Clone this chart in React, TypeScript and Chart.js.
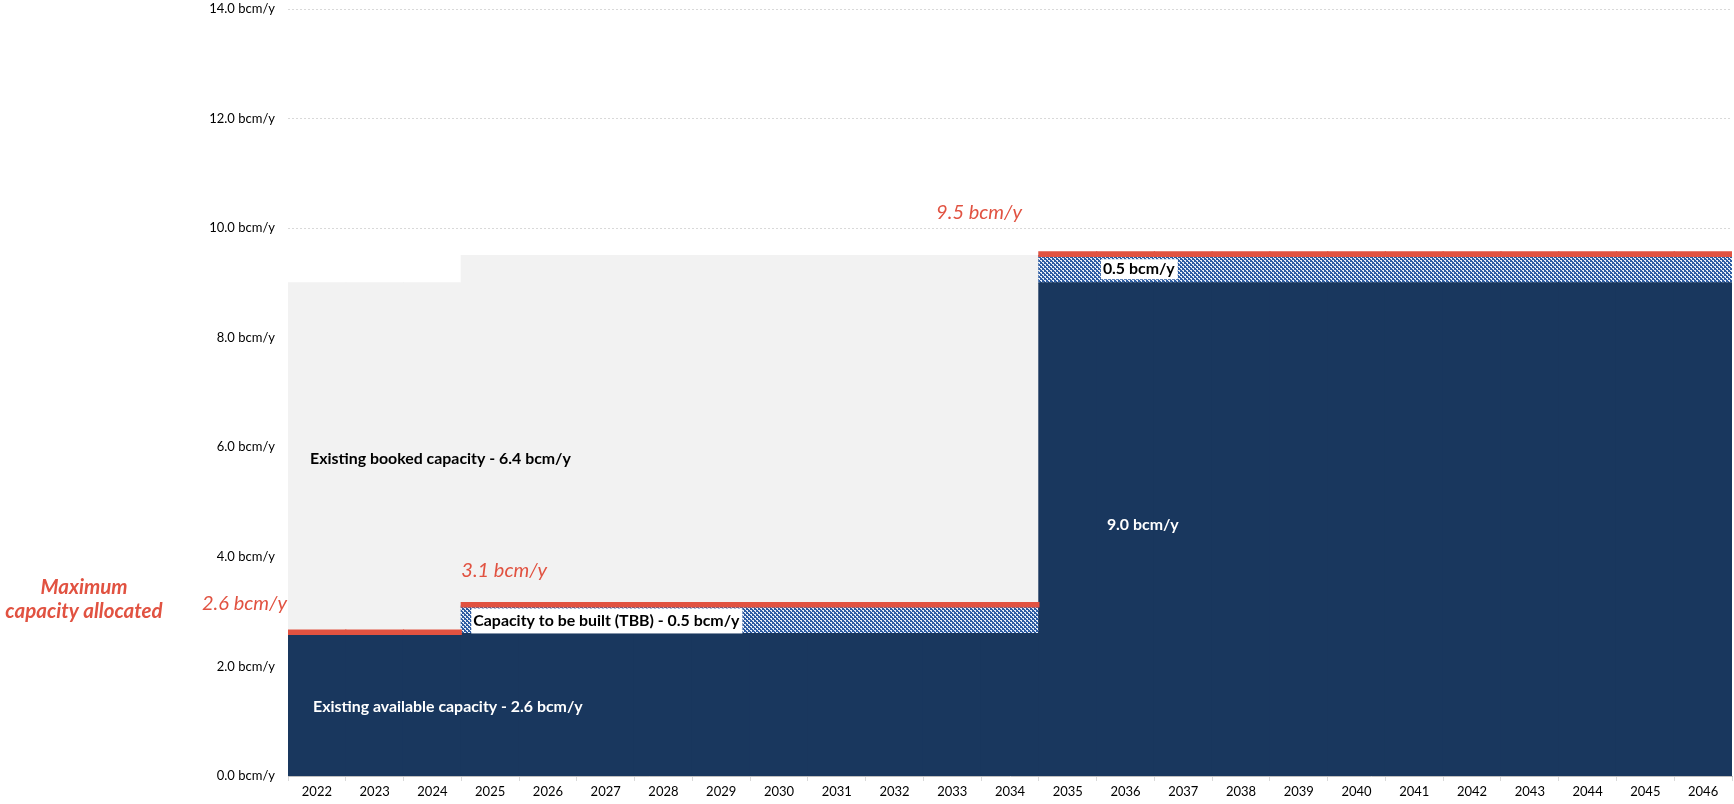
import React, { useEffect, useRef } from "react";
import { Chart, registerables } from "chart.js";

Chart.register(...registerables);

const years: string[] = [
  "2022","2023","2024","2025","2026","2027","2028","2029","2030","2031","2032","2033","2034",
  "2035","2036","2037","2038","2039","2040","2041","2042","2043","2044","2045","2046",
];
const availableCapacity: number[] = [
  2.6, 2.6, 2.6, 2.6, 2.6, 2.6, 2.6, 2.6, 2.6, 2.6, 2.6, 2.6, 2.6,
  9.0, 9.0, 9.0, 9.0, 9.0, 9.0, 9.0, 9.0, 9.0, 9.0, 9.0, 9.0,
];
const toBeBuilt: number[] = [
  0, 0, 0, 0.5, 0.5, 0.5, 0.5, 0.5, 0.5, 0.5, 0.5, 0.5, 0.5,
  0.5, 0.5, 0.5, 0.5, 0.5, 0.5, 0.5, 0.5, 0.5, 0.5, 0.5, 0.5,
];
const bookedCapacity: number[] = [
  6.4, 6.4, 6.4, 6.4, 6.4, 6.4, 6.4, 6.4, 6.4, 6.4, 6.4, 6.4, 6.4,
  0, 0, 0, 0, 0, 0, 0, 0, 0, 0, 0, 0,
];
const maxAllocated: number[] = [
  2.6, 2.6, 2.6, 3.1, 3.1, 3.1, 3.1, 3.1, 3.1, 3.1, 3.1, 3.1, 3.1,
  9.5, 9.5, 9.5, 9.5, 9.5, 9.5, 9.5, 9.5, 9.5, 9.5, 9.5, 9.5,
];
const yTicks: number[] = [0, 2, 4, 6, 8, 10, 12, 14];

const NAVY = "#19375E";
const GREY = "#F2F2F2";
const RED = "#E15241";
const FONT = "Lato, 'Open Sans', sans-serif";
const LINE_BELOW = 0.015;
const LINE_ABOVE = 0.065;

function makeHatch(): CanvasPattern | string {
  const c = document.createElement("canvas");
  c.width = 8;
  c.height = 8;
  const g = c.getContext("2d");
  if (!g) return "#2E5DA3";
  g.fillStyle = "#2D5CA2";
  g.fillRect(0, 0, 8, 8);
  g.fillStyle = "#E8EEF7";
  for (let y = 0; y < 8; y++)
    for (let x = 0; x < 8; x++) {
      const d = (((x - y) % 4) + 4) % 4;
      if (d === 0 || (d === 1 && y % 2 === 0)) g.fillRect(x, y, 1, 1);
    }
  return g.createPattern(c, "repeat") || "#2E5DA3";
}

const textPlugin = {
  id: "textLabels",
  afterDatasetsDraw(chart: any) {
    const ctx = chart.ctx as CanvasRenderingContext2D;
    const xs = chart.scales.x;
    const ys = chart.scales.y;
    const cw = xs.getPixelForValue(1) - xs.getPixelForValue(0);
    const leftEdge = (i: number) => xs.getPixelForValue(i) - cw / 2;
    const py = (v: number) => ys.getPixelForValue(v);

    ctx.save();
    ctx.textBaseline = "middle";

    // Booked
    ctx.font = `bold 15.9px ${FONT}`;
    ctx.fillStyle = "#000";
    ctx.textAlign = "left";
    ctx.fillText("Existing booked capacity - 6.4 bcm/y", leftEdge(0) + 22, py(5.79));

    // Available
    ctx.fillStyle = "#fff";
    ctx.fillText("Existing available capacity - 2.6 bcm/y", leftEdge(0) + 25, py(1.26));

    // 9.0
    ctx.fillText("9.0 bcm/y", leftEdge(13) + 68, py(4.58));

    // TBB box
    const tbb = "Capacity to be built (TBB) - 0.5 bcm/y";
    const tw = ctx.measureText(tbb).width;
    const tx = leftEdge(3) + 12;
    const tyc = py(2.83);
    ctx.fillStyle = "#fff";
    ctx.fillRect(tx - 2, tyc - 12.5, tw + 5, 25);
    ctx.fillStyle = "#000";
    ctx.fillText(tbb, tx, tyc);

    // 0.5 box
    const s05 = "0.5 bcm/y";
    const w05 = ctx.measureText(s05).width;
    const x05 = leftEdge(13) + 64;
    const y05 = py(9.25);
    ctx.fillStyle = "#fff";
    ctx.fillRect(x05 - 2, y05 - 10, w05 + 5, 20);
    ctx.fillStyle = "#000";
    ctx.fillText(s05, x05, y05);

    // Red italic labels
    ctx.fillStyle = RED;
    ctx.font = `italic 20px ${FONT}`;
    ctx.textAlign = "left";
    ctx.fillText("9.5 bcm/y", leftEdge(12) - 45, py(10.28));
    ctx.fillText("3.1 bcm/y", leftEdge(3), py(3.75));
    ctx.textAlign = "right";
    ctx.fillText("2.6 bcm/y", leftEdge(0) - 1, py(3.15));

    // Maximum capacity allocated
    ctx.font = `italic bold 20.5px ${FONT}`;
    ctx.textAlign = "center";
    ctx.fillText("Maximum", 84, py(3.44));
    ctx.fillText("capacity allocated", 84, py(3.0));

    ctx.restore();
  },
};

const barCommon = {
  barPercentage: 1,
  categoryPercentage: 1,
  borderWidth: 0,
  inflateAmount: 0.6,
};

export default function App() {
  const ref = useRef<HTMLCanvasElement | null>(null);

  useEffect(() => {
    if (!ref.current) return;
    const hatch = makeHatch();
    const chart = new Chart(ref.current, {
      type: "bar",
      data: {
        labels: years,
        datasets: [
          {
            label: "Maximum capacity allocated",
            data: maxAllocated.map((v) => [v - LINE_BELOW, v + LINE_ABOVE]) as any,
            backgroundColor: RED,
            stack: "max",
            grouped: false,
            ...barCommon,
          } as any,
          {
            label: "Existing available capacity",
            data: availableCapacity,
            backgroundColor: NAVY,
            stack: "main",
            ...barCommon,
          } as any,
          {
            label: "Capacity to be built (TBB)",
            data: toBeBuilt,
            backgroundColor: hatch as any,
            stack: "main",
            ...barCommon,
          } as any,
          {
            label: "Existing booked capacity",
            data: bookedCapacity,
            backgroundColor: GREY,
            stack: "main",
            ...barCommon,
          } as any,
        ],
      },
      options: {
        animation: false,
        responsive: false,
        maintainAspectRatio: false,
        layout: { padding: { top: 9, right: 2, left: 0, bottom: 0 } },
        plugins: {
          legend: { display: false },
          tooltip: { enabled: false },
        },
        scales: {
          x: {
            stacked: true,
            offset: true,
            grid: {
              offset: true,
              drawOnChartArea: false,
              drawTicks: true,
              tickLength: 5,
              color: "#D9D9D9",
            },
            border: { display: true, color: "#BFBFBF" },
            ticks: {
              color: "#000",
              font: { family: FONT, size: 13 },
              padding: 3,
              maxRotation: 0,
              autoSkip: false,
            },
            afterFit: (s: any) => {
              s.height = 28;
            },
          },
          y: {
            stacked: true,
            min: 0,
            max: 14,
            afterBuildTicks: (s: any) => {
              s.ticks = yTicks.map((v) => ({ value: v }));
            },
            grid: {
              color: "#D9D9D9",
              drawTicks: false,
              lineWidth: 1,
            },
            border: { display: false, dash: [2, 2] },
            ticks: {
              color: "#000",
              font: { family: FONT, size: 13 },
              padding: 13,
              callback: (v: any) => `${Number(v).toFixed(1)} bcm/y`,
            },
            afterFit: (s: any) => {
              s.width = 288;
              s.paddingTop = 0;
              s.paddingBottom = 0;
            },
          },
        },
      },
      plugins: [textPlugin],
    });
    return () => chart.destroy();
  }, []);

  return (
    <div style={{ position: "fixed", left: 0, top: 0, width: 1734, height: 804, background: "#fff" }}>
      <canvas ref={ref} width={1734} height={804} style={{ display: "block", width: 1734, height: 804 }} />
    </div>
  );
}
